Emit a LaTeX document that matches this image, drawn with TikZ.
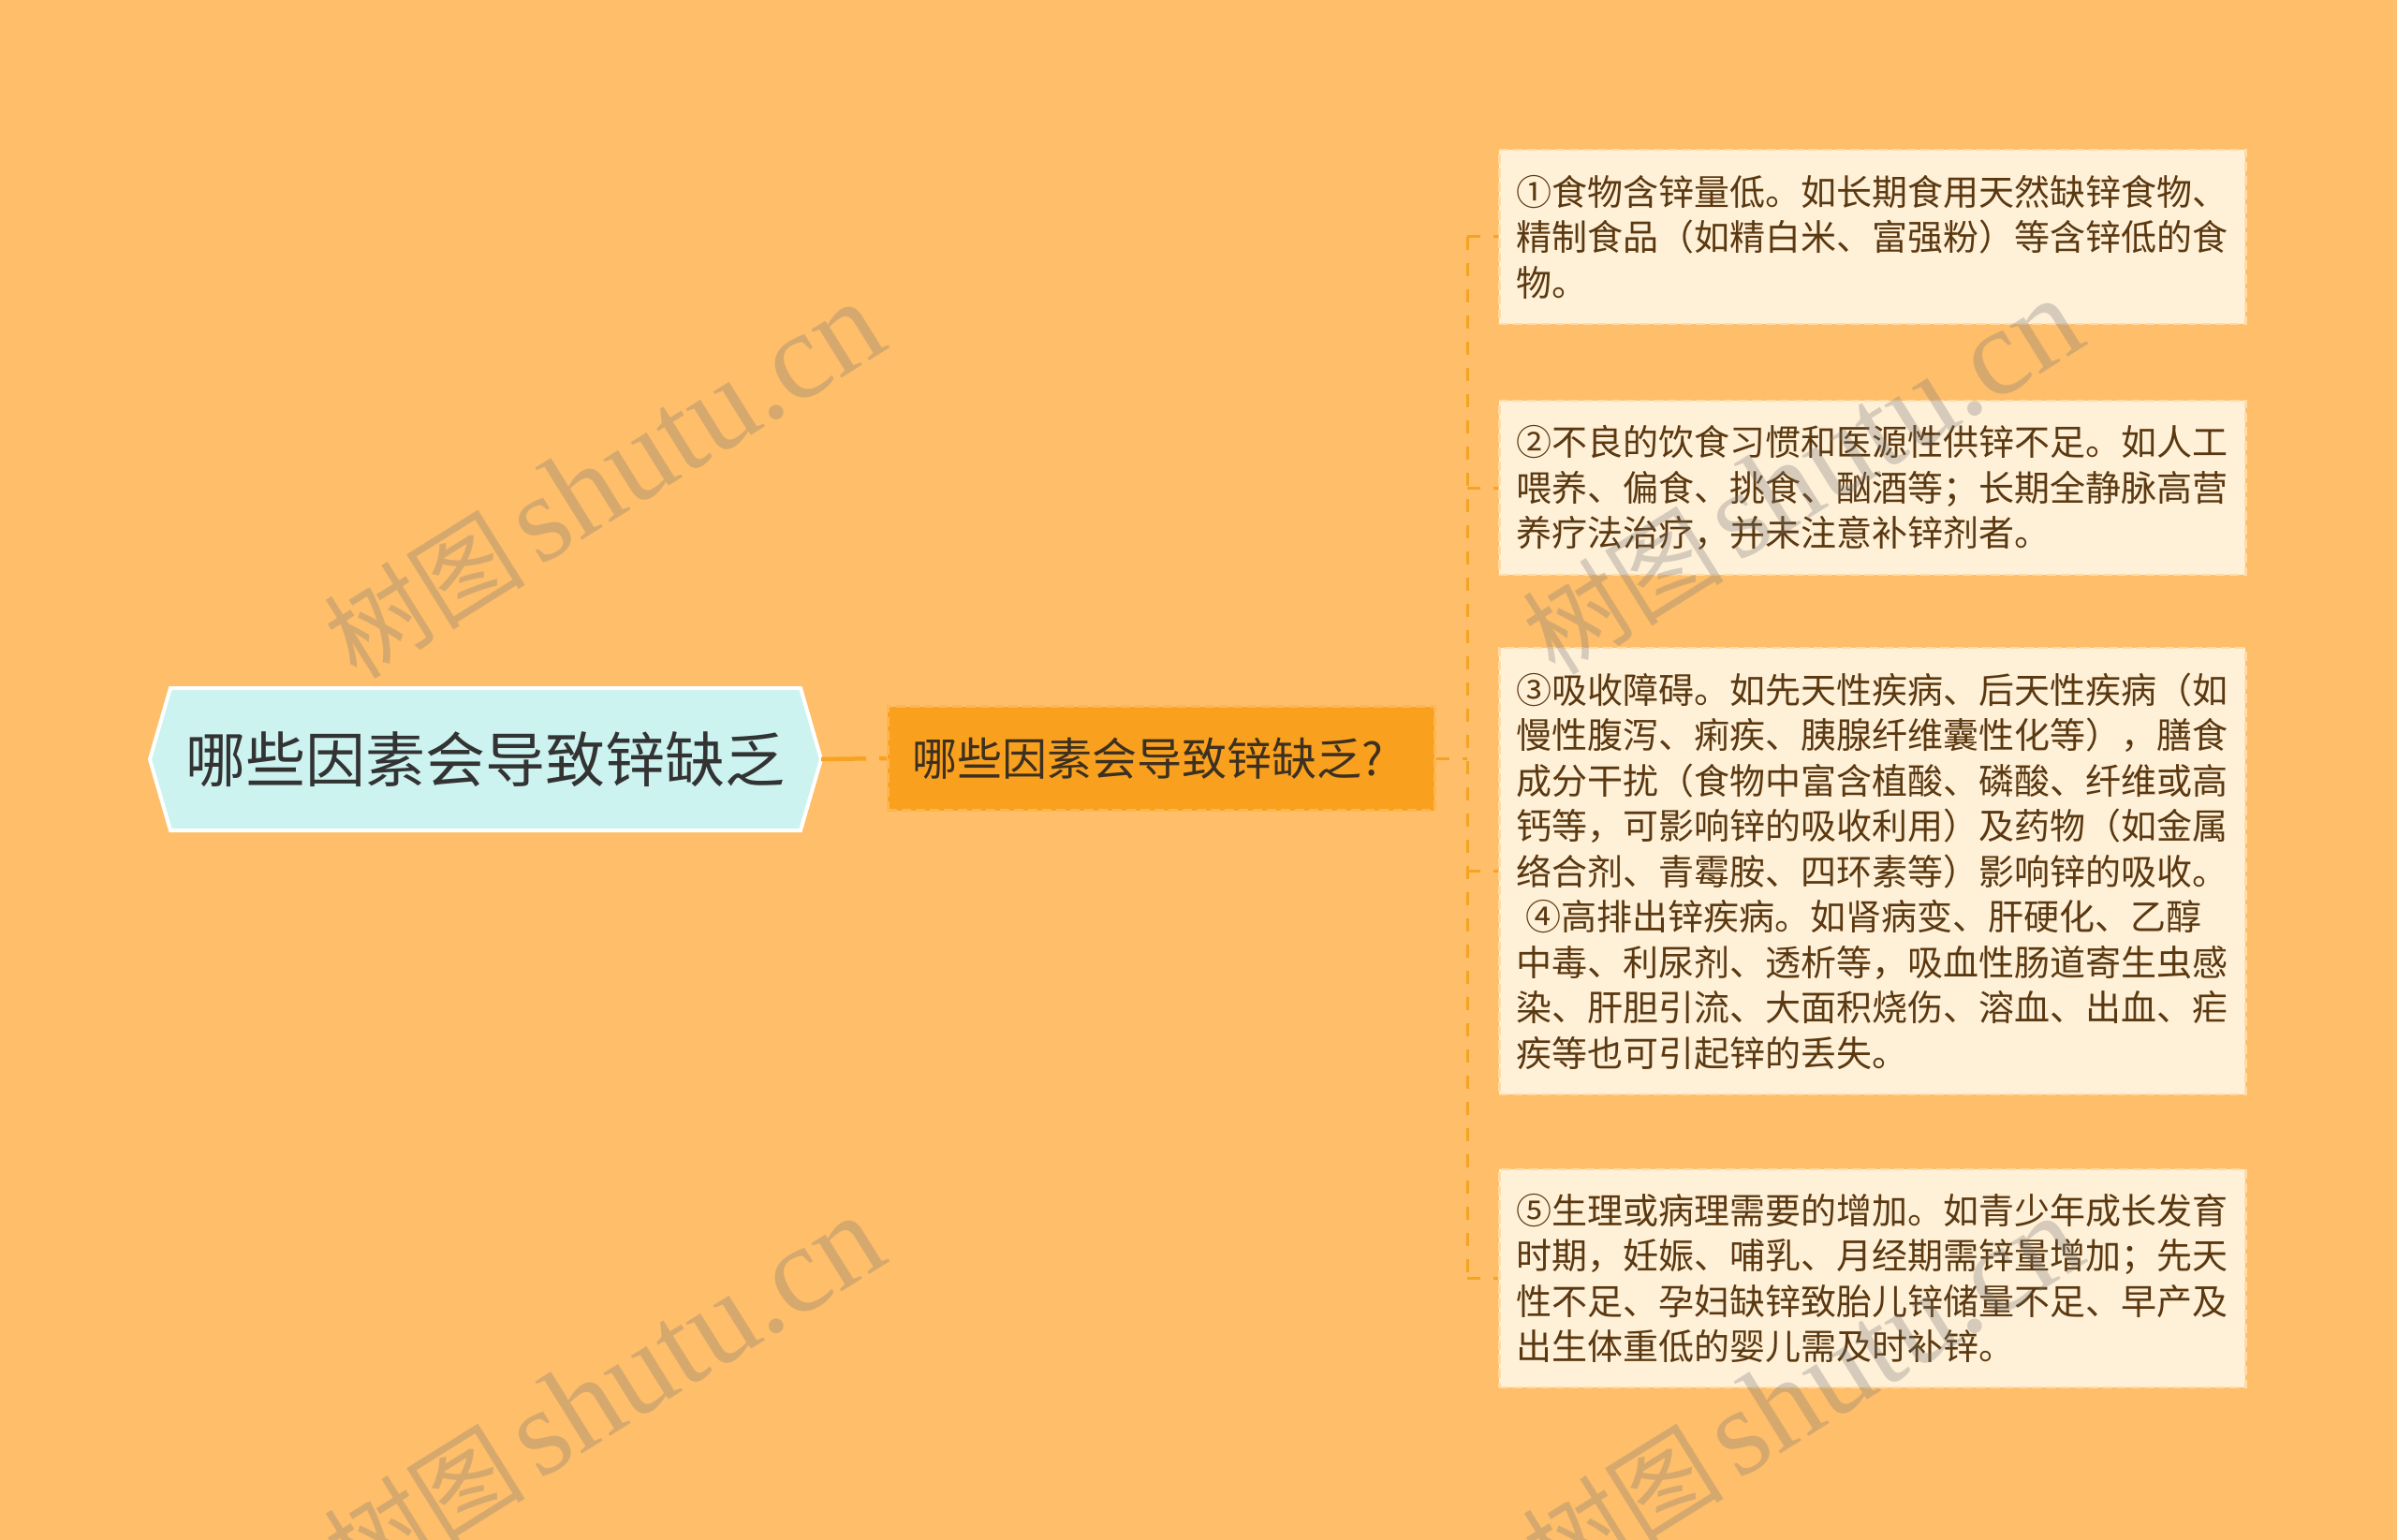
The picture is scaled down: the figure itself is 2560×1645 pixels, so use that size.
\documentclass[tikz,border=0pt]{standalone}
\usepackage{fontspec}
\setmainfont{Noto Sans CJK SC}
\newfontfamily\wmlatin{Liberation Serif}
\usetikzlibrary{calc}

\definecolor{bg}{HTML}{FEBE6A}
\definecolor{rootfill}{HTML}{CCF3F0}
\definecolor{midfill}{HTML}{F9A11E}
\definecolor{midborder}{HTML}{FDB651}
\definecolor{leaffill}{HTML}{FFF0D8}
\definecolor{leafborder}{HTML}{FFDCA6}
\definecolor{linkc}{HTML}{F6A322}
\definecolor{leaftext}{HTML}{5A3810}
\definecolor{roottext}{HTML}{333333}
\definecolor{midtext}{HTML}{3D3020}
\definecolor{wmgray}{HTML}{787878}

\tikzset{
  hexbox/.style={fill=rootfill, draw=white, line width=4pt, line join=miter},
  rootbox/.style={minimum width=717pt, minimum height=152pt, inner sep=0pt,
    font=\fontsize{64}{76}\selectfont, text=roottext},
  midbox/.style={fill=midfill, draw=midborder, line width=2.5pt, dash pattern=on 10pt off 5pt,
    minimum height=111pt, text width=532pt, inner xsep=26pt, inner ysep=0pt, align=left,
    font=\fontsize{48}{58}\selectfont, text=midtext},
  leafbox/.style={fill=leaffill, draw=leafborder, line width=2.5pt, dash pattern=on 10pt off 5pt,
    text width=760pt, inner xsep=18.5pt, inner ysep=0pt, align=left,
    font=\fontsize{38}{48.5}\selectfont, text=leaftext, anchor=west},
  rootlink/.style={draw=linkc, line width=4.5pt, dash pattern=on 48pt off 14pt},
  link/.style={draw=linkc, line width=3pt, dash pattern=on 14pt off 14pt},
  wm/.style={text=wmgray, opacity=0.3, rotate=32, inner sep=0pt,
    font=\fontsize{108}{120}\selectfont}
}
\newcommand{\wmtext}{树图\hspace{14pt}{\wmlatin\fontsize{132}{140}\selectfont shutu.cn}}

\begin{document}
\begin{tikzpicture}[x=1pt,y=-1pt]
\useasboundingbox (0,0) rectangle (2560,1645);
\fill[bg] (0,0) rectangle (2560,1645);

% root hexagon
\path[hexbox] (160,811) -- (182,735) -- (855,735) -- (877,811) -- (855,887) -- (182,887) -- cycle;
\node[rootbox] (root) at (518.5,811) {哪些因素会导致锌缺乏};

% middle node
\node[midbox, anchor=west] (mid) at (947,810) {哪些因素会导致锌缺乏?};

% leaves
\node[leafbox, minimum height=186pt] (l1) at (1600,253) {①食物含锌量低。如长期食用天然缺锌食物、\\精制食品（如精白米、富强粉）等含锌低的食\\物。};
\node[leafbox, minimum height=186pt] (l2) at (1600,521) {②不良的饮食习惯和医源性供锌不足。如人工\\喂养、偏食、挑食、酗酒等；长期全静脉高营\\养疗法治疗，并未注意补锌剂者。};
\node[leafbox, minimum height=477pt] (l3) at (1600,930.5) {③吸收障碍。如先天性疾病、后天性疾病（如\\慢性腹泻、痢疾、胰腺纤维囊性化等），膳食\\成分干扰（食物中富含植酸、磷酸、纤维或高\\钙等，可影响锌的吸收利用）及药物（如金属\\络合剂、青霉胺、四环素等）影响锌的吸收。\\\hspace*{10pt}④高排出锌疾病。如肾病变、肝硬化、乙醇\\中毒、利尿剂、透析等，吸血性肠道寄生虫感\\染、肝胆引流、大面积烧伤、溶血、出血、疟\\疾等也可引起锌的丢失。};
\node[leafbox, minimum height=233pt] (l4) at (1600,1365.5) {⑤生理或病理需要的增加。如青少年成长发育\\时期，妊娠、哺乳、月经期需锌量增加；先天\\性不足、孕妇缺锌致胎儿锌储量不足、早产及\\出生体重低的婴儿需及时补锌。};

% connectors
\coordinate (trunk) at (1567,810);
\draw[rootlink] (root.east) -- (mid.west);
\draw[link] (mid.east) -- (trunk);
\draw[link] (trunk |- l1.west) -- (trunk |- l4.west);
\foreach \l in {l1,l2,l3,l4} {
  \draw[link] (trunk |- \l.west) -- (\l.west);
}

% watermarks
\node[wm] (wm1) at (645,514) {\wmtext};
\node[wm] (wm2) at (645,1490) {\wmtext};
\node[wm] (wm3) at (1925,510) {\wmtext};
\node[wm] (wm4) at (1925,1490) {\wmtext};
\end{tikzpicture}
\end{document}
